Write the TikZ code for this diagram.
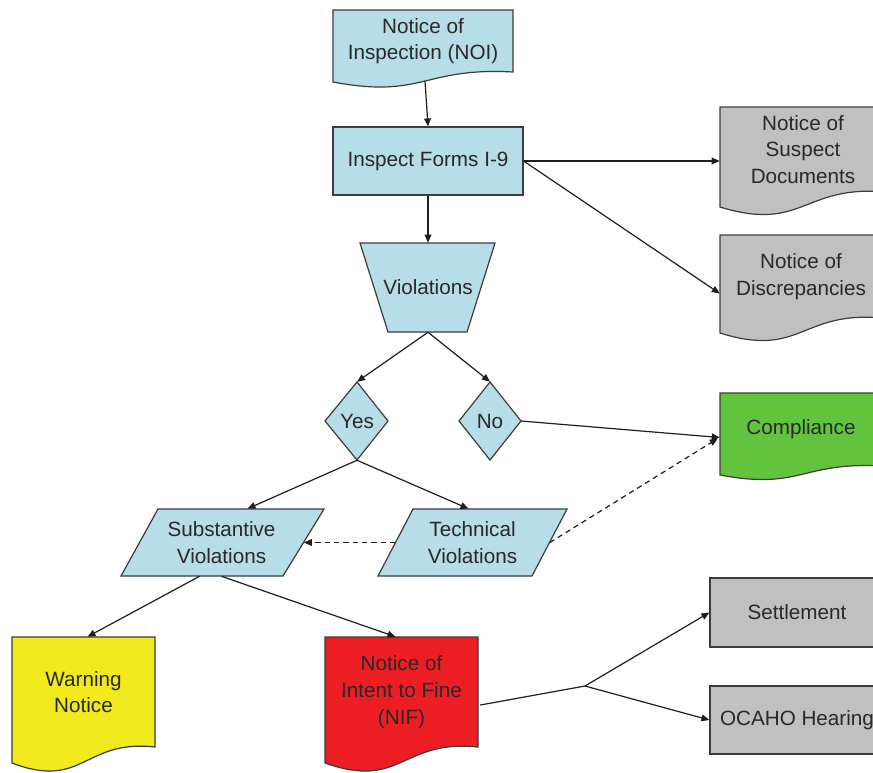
\documentclass[tikz,border=0pt]{standalone}
\usepackage{fontspec}
\setmainfont{Liberation Sans}
\usetikzlibrary{arrows.meta,calc}
\definecolor{lblue}{RGB}{183,221,232}
\definecolor{dgray}{RGB}{192,192,192}
\definecolor{cgreen}{RGB}{98,196,62}
\definecolor{cyellow}{RGB}{240,234,28}
\definecolor{cred}{RGB}{236,30,36}
\definecolor{edge}{RGB}{60,60,60}
\definecolor{linec}{RGB}{30,30,30}
\definecolor{txtc}{RGB}{40,40,40}
\tikzset{
  box/.style={draw=edge, fill=lblue, line width=0.9pt},
  txt/.style={align=center, font=\fontsize{15.5}{20}\selectfont, text=txtc, inner sep=0pt},
  plainline/.style={line width=0.9pt, draw=linec},
  conn/.style={plainline, -{Triangle[length=6pt,width=5pt]}},
  dashline/.style={dash pattern=on 4pt off 3pt},
}
% name, x0, y0, x1, y1 (right end of wave), c (drop of left corner), fill, text
\newcommand{\docshape}[8]{%
  \path[box, fill=#7] (#2,#3) -- (#4,#3) -- (#4,#5)
    .. controls ({(#2+#4)/2},{#5-0.5*#6}) and ({(#2+#4)/2},{#5+2.7*#6}) .. (#2,{#5+#6}) -- cycle;
  \node[txt, minimum width={(#4-#2)*0.75pt}, minimum height={(#5-#3)*0.75pt}] (#1) at ({(#2+#4)/2},{(#3+#5)/2}) {#8};
}
\begin{document}
\begin{tikzpicture}[x=0.75pt,y=-0.75pt]
\useasboundingbox (0,0) rectangle (873,772);
\clip (0,0) rectangle (873,772);
\fill[white] (0,0) rectangle (873,772);

% documents
\docshape{NOI}{333}{10}{513}{72}{10}{lblue}{Notice of\\Inspection (NOI)}
\docshape{Susp}{720}{107}{886}{192}{15}{dgray}{Notice of\\Suspect\\Documents}
\docshape{Disc}{720}{235}{882}{318}{15}{dgray}{Notice of\\Discrepancies}
\docshape{Comp}{720}{393}{882}{466}{9}{cgreen}{Compliance}
\docshape{Warn}{12}{637}{155}{747}{16}{cyellow}{Warning\\Notice}
\docshape{NIF}{325}{637}{478}{747}{16}{cred}{Notice of\\Intent to Fine\\(NIF)}

% process box
\node[txt, box, minimum width=142.5pt, minimum height=51pt] (Insp) at (428,161) {Inspect Forms I-9};

% trapezoid
\path[box] (360,243) -- (495,243) -- (467,332) -- (388,332) -- cycle;
\node[txt, minimum width=101.25pt, minimum height=66.75pt] (Viol) at (428,287.5) {Violations};

% diamonds
\path[box] (357,382) -- (388,421) -- (357,460) -- (325,421) -- cycle;
\node[txt, minimum width=47.25pt, minimum height=58.5pt] (Yes) at (357,421) {Yes};
\path[box] (490,382) -- (521,421) -- (490,460) -- (459,421) -- cycle;
\node[txt, minimum width=46.5pt, minimum height=58.5pt] (No) at (490,421) {No};

% parallelograms
\path[box] (158,509) -- (324,509) -- (283,576) -- (121,576) -- cycle;
\node[txt, minimum width=123pt, minimum height=50.25pt] (Sub) at (221.5,542.5) {Substantive\\Violations};
\path[box] (413,509) -- (567,509) -- (532,576) -- (378,576) -- cycle;
\node[txt, minimum width=115.5pt, minimum height=50.25pt] (Tech) at (472.5,542.5) {Technical\\Violations};

% outcome boxes
\node[txt, box, fill=dgray, minimum width=130.5pt, minimum height=51.75pt] (Settle) at (797,612.5) {Settlement};
\node[txt, box, fill=dgray, minimum width=130.5pt, minimum height=51pt] (OCAHO) at (797,720) {OCAHO Hearing};

% connectors
\draw[conn] ($(NOI.south)+(2,9)$) -- (Insp.north);
\draw[conn] (Insp.east) -- (Insp.east -| Susp.west);
\draw[conn] (Insp.east) -- ($(Disc.west)+(0,17)$);
\draw[conn] (Insp.south) -- (Viol.north);
\draw[conn] (Viol.south) -- (Yes.north);
\draw[conn] (Viol.south) -- (No.north);
\draw[conn] (No.east) -- ($(Comp.west)+(0,8)$);
\draw[conn] (Yes.south) -- ($(Sub.north)+(26,0)$);
\draw[conn] (Yes.south) -- ($(Tech.north)+(-4,0)$);
\draw[conn, dashline] (Tech.west) -- (Sub.east);
\draw[conn, dashline] (Tech.east) -- ($(Comp.west)+(-2,9)$);
\draw[conn] ($(Sub.south)+(-22,0)$) -- ($(Warn.north)+(4,0)$);
\draw[conn] (Sub.south) -- ($(NIF.north)+(-6,0)$);
\coordinate (J) at (585,686);
\draw[plainline] ($(NIF.east)+(2,13)$) -- (J);
\draw[conn] (J) -- (Settle.west);
\draw[conn] (J) -- (OCAHO.west);
\end{tikzpicture}
\end{document}
